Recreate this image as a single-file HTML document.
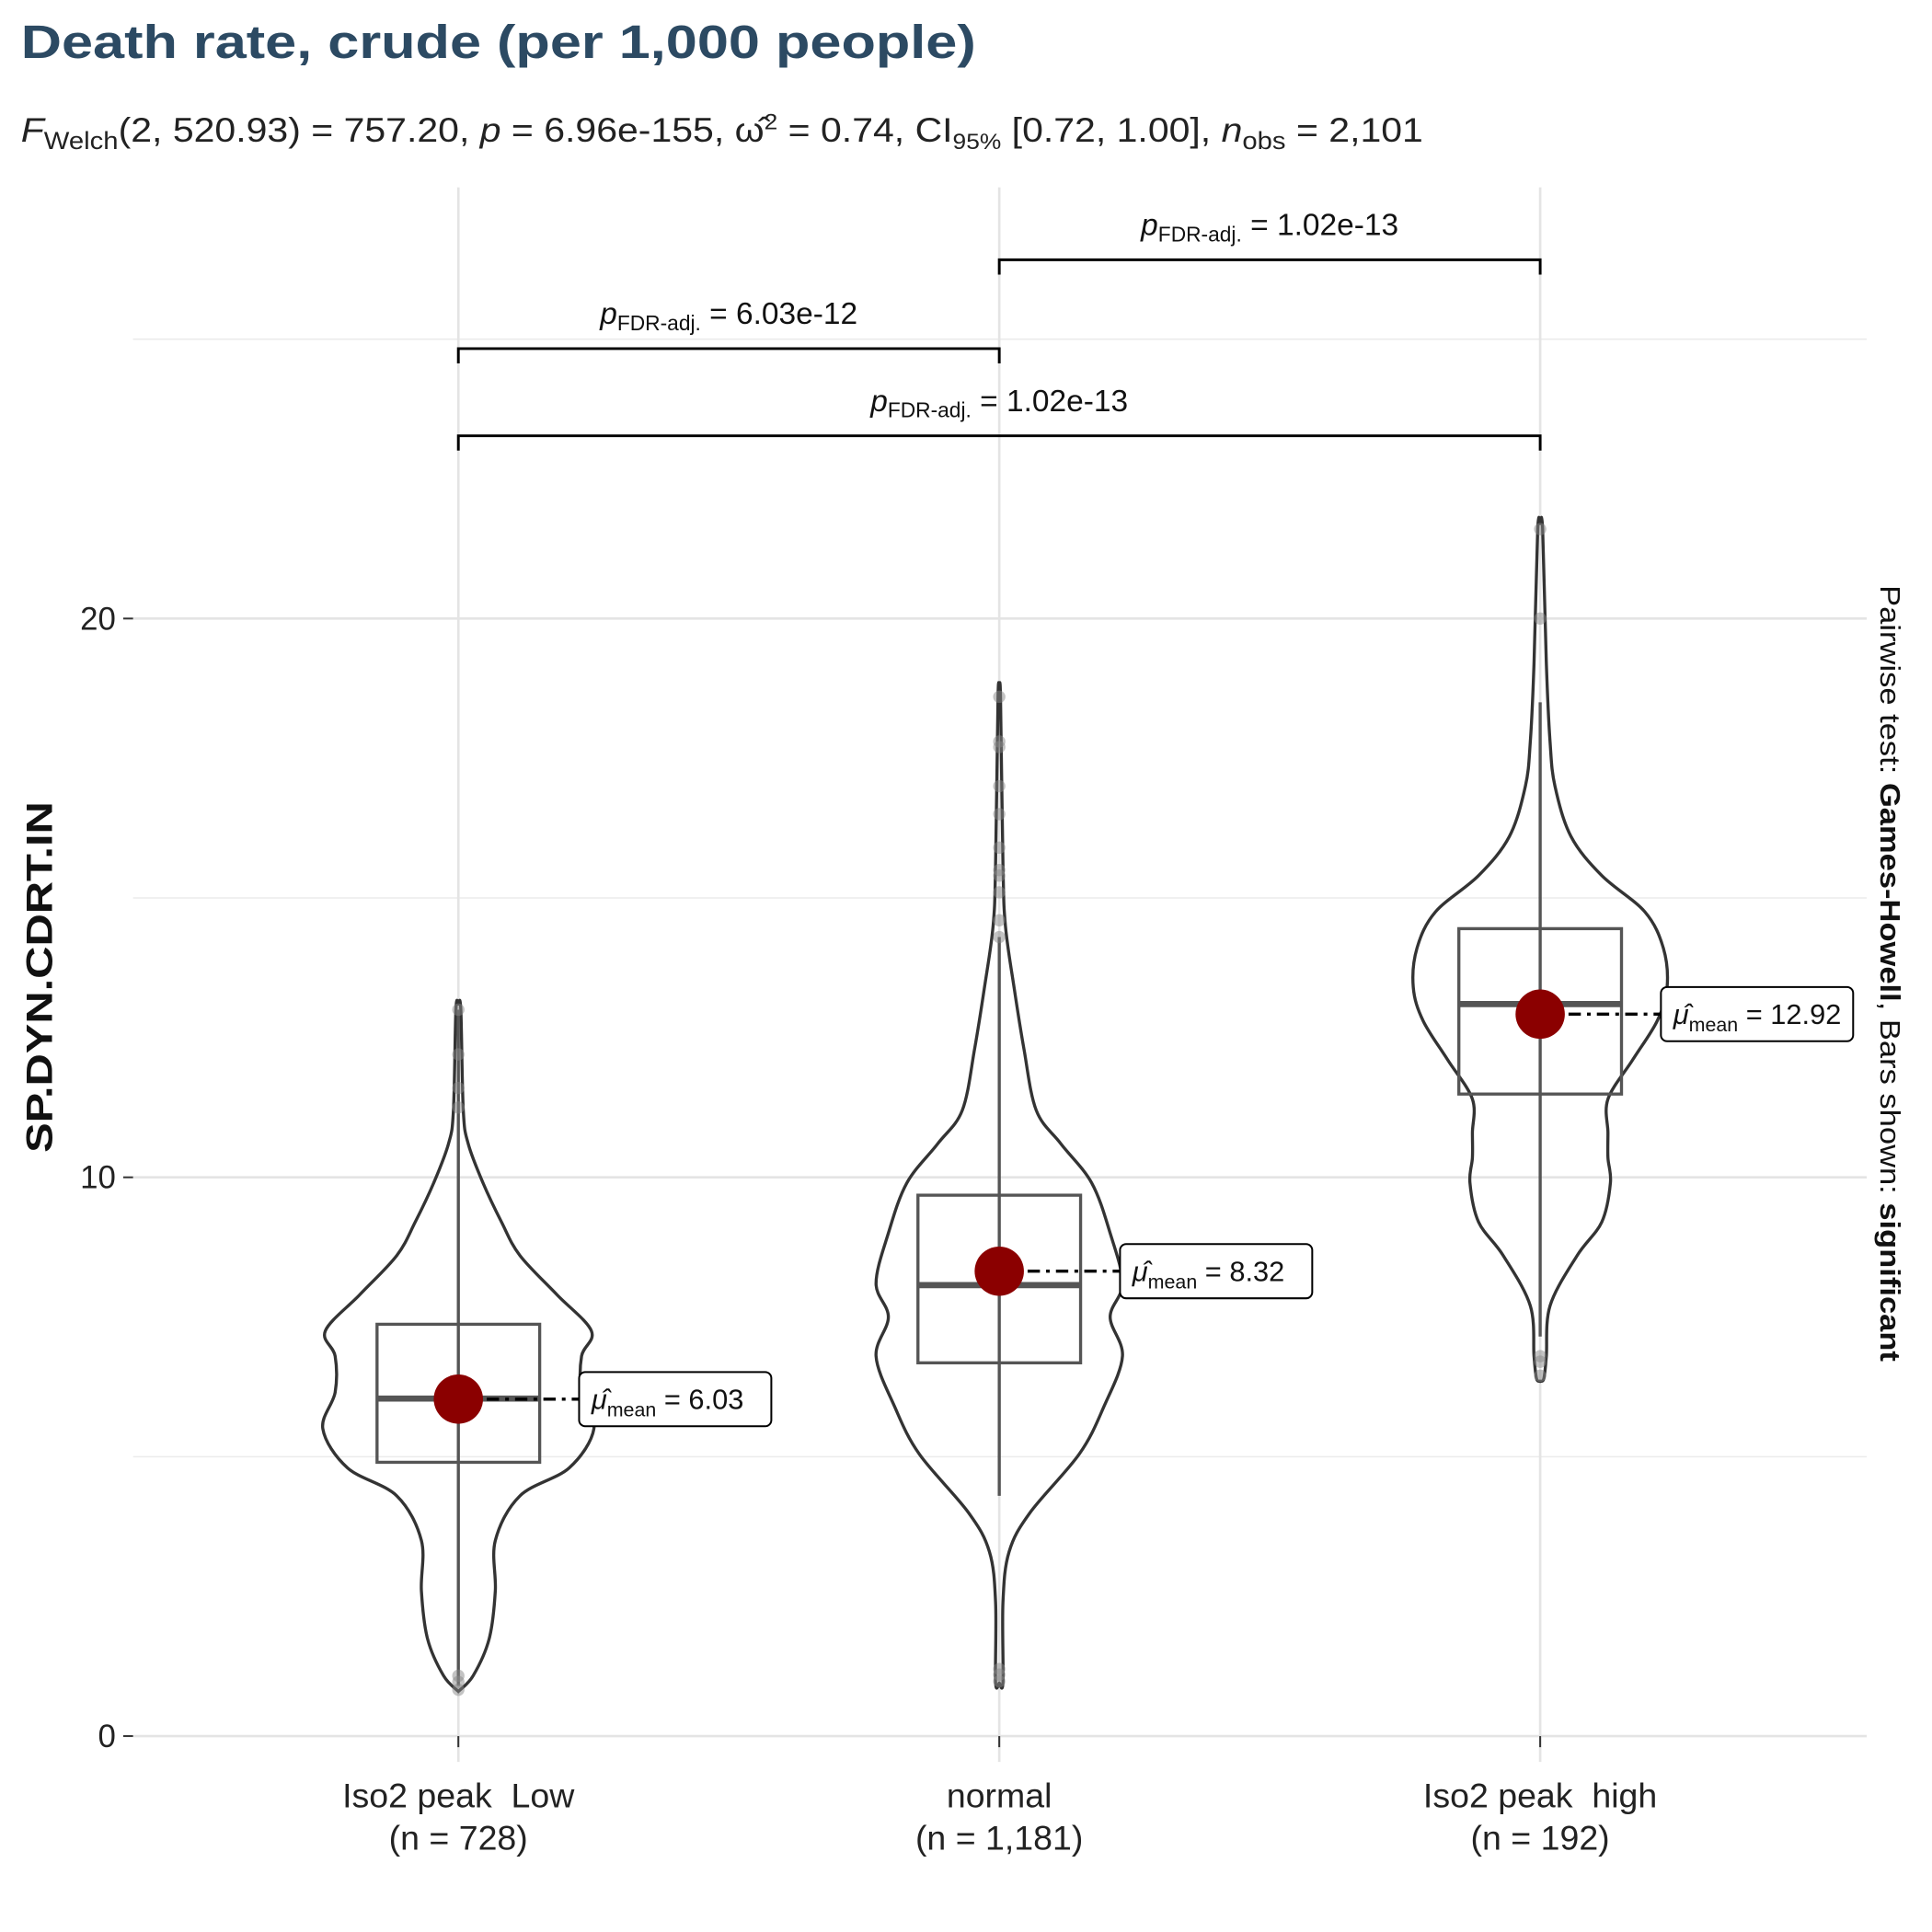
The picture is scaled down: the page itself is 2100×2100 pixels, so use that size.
<!DOCTYPE html>
<html><head><meta charset="utf-8"><style>
html,body{margin:0;padding:0;background:#fff}
svg{display:block;font-family:"Liberation Sans","DejaVu Sans",sans-serif}
</style></head><body>
<svg id="chart" width="2100" height="2100" viewBox="0 0 1568 1568" xmlns="http://www.w3.org/2000/svg">
<text x="17" y="47" font-size="38" font-weight="bold" fill="#2c4a63" textLength="775" lengthAdjust="spacingAndGlyphs">Death rate, crude (per 1,000 people)</text>
<text x="17" y="115" font-size="28" fill="#222" textLength="1138" lengthAdjust="spacingAndGlyphs"><tspan font-style="italic">F</tspan><tspan font-size="20" dy="6">Welch</tspan><tspan dy="-6">(2, 520.93) = 757.20, </tspan><tspan font-style="italic">p</tspan><tspan> = 6.96e-155, ω̂</tspan><tspan font-size="18" dy="-10">2</tspan><tspan dy="10"> = 0.74, CI</tspan><tspan font-size="18" dy="6">95%</tspan><tspan dy="-6"> [0.72, 1.00], </tspan><tspan font-style="italic">n</tspan><tspan font-size="20" dy="6">obs</tspan><tspan dy="-6"> = 2,101</tspan></text>
<g id="grid"></g>
<g id="marks"></g>
<text transform="translate(42,793) rotate(-90)" text-anchor="middle" font-size="30" font-weight="bold" fill="#111" textLength="285" lengthAdjust="spacingAndGlyphs">SP.DYN.CDRT.IN</text>
<text transform="translate(1526,790) rotate(90)" text-anchor="middle" font-size="23" fill="#111" textLength="630" lengthAdjust="spacingAndGlyphs">Pairwise test: <tspan font-weight="bold">Games-Howell</tspan>, Bars shown: <tspan font-weight="bold">significant</tspan></text>
</svg>
<script>
const categories=["Iso2 peak\u00a0\u00a0Low","normal","Iso2 peak\u00a0\u00a0high"];
const counts=["(n = 728)","(n = 1,181)","(n = 192)"];
const means=[6.03,8.32,12.92];
const medians=[6.04,8.07,13.1];
const q1=[4.9,6.68,11.49];
const q3=[7.37,9.68,14.45];
const whiskLo=[0.9,4.3,7.15];
const whiskHi=[13.0,14.3,18.5];
const yTicks=[0,10,20];
const yMinor=[5,15,25];
const densLow=[[0.8,0],[1.08,12],[1.74,25],[2.6,30],[3.5,30],[4.3,50],[4.8,90],[5.5,110],[6.15,100],[6.8,100],[7.25,108],[7.9,80],[8.6,50],[9.2,35],[9.9,20],[10.6,8],[11.2,4],[13,2],[13.1,0]];
const densNormal=[[0.95,0],[0.97,3],[2.4,3],[3.3,8],[4.0,25],[5.05,65],[5.9,85],[6.8,100],[7.5,90],[8.1,100],[9.0,90],[9.9,75],[10.6,50],[11.2,30],[12.3,20],[13.4,12],[14.5,5],[15.6,3],[18.6,1],[18.7,0]];
const densHigh=[[6.35,0],[6.4,3],[6.8,5],[7.7,8],[8.6,30],[9.2,50],[9.9,57],[10.35,55],[10.8,55],[11.4,55],[12.1,75],[12.8,95],[13.4,103],[14.1,100],[14.75,85],[15.4,50],[16.1,25],[17,12],[17.8,8],[19.2,5],[21.6,2],[21.7,0]];
const outliers=[[13,12.2,11.6,11.25,1.08,0.97,0.83],[18.6,17.8,17.7,17,16.5,15.9,15.5,15.4,15.1,14.6,14.3,1.2,1.1,0.98],[21.6,20,6.8,6.7,6.45]];
const pairs=[[0,1,"6.03e-12",24.83],[1,2,"1.02e-13",26.42],[0,2,"1.02e-13",23.27]];
const NS="http://www.w3.org/2000/svg";
const y=v=>1409-45.35*v;
const x=i=>372+439*i;
function mk(tag,attrs,parent){const e=document.createElementNS(NS,tag);for(const k in attrs)e.setAttribute(k,attrs[k]);parent.appendChild(e);return e;}
const grid=document.getElementById('grid'),marks=document.getElementById('marks');
yMinor.forEach(v=>{const l=mk('line',{x1:108,x2:1515,y1:y(v),y2:y(v),stroke:'#ebebeb','stroke-width':1.2},grid);

});
yTicks.forEach(v=>{const l=mk('line',{x1:108,x2:1515,y1:y(v),y2:y(v),stroke:'#e4e4e4','stroke-width':2},grid);


const t=mk('line',{x1:100,x2:108,y1:y(v),y2:y(v),stroke:'#333','stroke-width':1.5},grid);


const tx=mk('text',{x:94,y:y(v)+9,'text-anchor':'end','font-size':26,fill:'#222'},grid);tx.textContent=v;

});
categories.forEach((c,i)=>{const l=mk('line',{x1:x(i),x2:x(i),y1:152,y2:1430,stroke:'#e4e4e4','stroke-width':2},grid);


const t=mk('line',{x1:x(i),x2:x(i),y1:1409,y2:1418,stroke:'#333','stroke-width':1.5},grid);


const tx=mk('text',{x:x(i),y:1467,'text-anchor':'middle','font-size':28,fill:'#222'},grid);tx.textContent=c;


const tn=mk('text',{x:x(i),y:1501,'text-anchor':'middle','font-size':28,fill:'#222'},grid);tn.textContent=counts[i];

});
const dens=[densLow,densNormal,densHigh];
dens.forEach((d,i)=>{
 const right=d.map(p=>[x(i)+p[1],y(p[0])]),left=d.slice().reverse().map(p=>[x(i)-p[1],y(p[0])]);
 const pts=right.concat(left);
 let s=`M${pts[0][0]},${pts[0][1]}`;
 for(let k=0;k<pts.length-1;k++){const p0=pts[Math.max(k-1,0)],p1=pts[k],p2=pts[k+1],p3=pts[Math.min(k+2,pts.length-1)];
 s+=` C${p1[0]+(p2[0]-p0[0])/6},${p1[1]+(p2[1]-p0[1])/6} ${p2[0]-(p3[0]-p1[0])/6},${p2[1]-(p3[1]-p1[1])/6} ${p2[0]},${p2[1]}`;}
 s+='Z';
 const v=mk('path',{d:s,fill:'none',stroke:'#333','stroke-width':2.5},marks);
 
 
});
categories.forEach((c,i)=>{
 const w=mk('line',{x1:x(i),x2:x(i),y1:y(whiskLo[i]),y2:y(whiskHi[i]),stroke:'#555','stroke-width':2.5},marks);
 
 
 const b=mk('rect',{x:x(i)-66,y:y(q3[i]),width:132,height:y(q1[i])-y(q3[i]),fill:'#fff','fill-opacity':0,stroke:'#555','stroke-width':2.5},marks);
 
 
 const m=mk('line',{x1:x(i)-66,x2:x(i)+66,y1:y(medians[i]),y2:y(medians[i]),stroke:'#555','stroke-width':5},marks);
 
 
 outliers[i].forEach(o=>{const p=mk('circle',{cx:x(i),cy:y(o),r:5,fill:'#888','fill-opacity':0.5},marks);
 
 });
 const dl=mk('line',{x1:x(i),x2:x(i)+112,y1:y(means[i]),y2:y(means[i]),stroke:'#000','stroke-width':2.5,'stroke-dasharray':'10 5 3 5'},marks);
 
 
 const mc=mk('circle',{cx:x(i),cy:y(means[i]),r:20,fill:'#8b0000'},marks);
 
 
 const bx=x(i)+98,by=y(means[i])-22;
 const lb=mk('rect',{x:bx,y:by,width:156,height:44,rx:5,fill:'#fff',stroke:'#000','stroke-width':1.5},marks);
 
 
 const lt=mk('text',{x:bx+10,y:by+30,'font-size':23,fill:'#111'},marks);
 lt.innerHTML=`<tspan font-style="italic">μ̂</tspan><tspan font-size="16" dy="6">mean</tspan><tspan dy="-6"> = ${means[i].toFixed(2)}</tspan>`;
 
 
});
pairs.forEach(p=>{const yy=y(p[3]);
 const br=mk('path',{d:`M${x(p[0])},${yy+12} V${yy} H${x(p[1])} V${yy+12}`,fill:'none',stroke:'#000','stroke-width':2.2},marks);
 
 
 const t=mk('text',{x:(x(p[0])+x(p[1]))/2,y:yy-20,'text-anchor':'middle','font-size':25,fill:'#111'},marks);
 t.innerHTML=`<tspan font-style="italic">p</tspan><tspan font-size="17" dy="5">FDR-adj.</tspan><tspan dy="-5"> = ${p[2]}</tspan>`;
 
 
});
</script>
</body></html>
